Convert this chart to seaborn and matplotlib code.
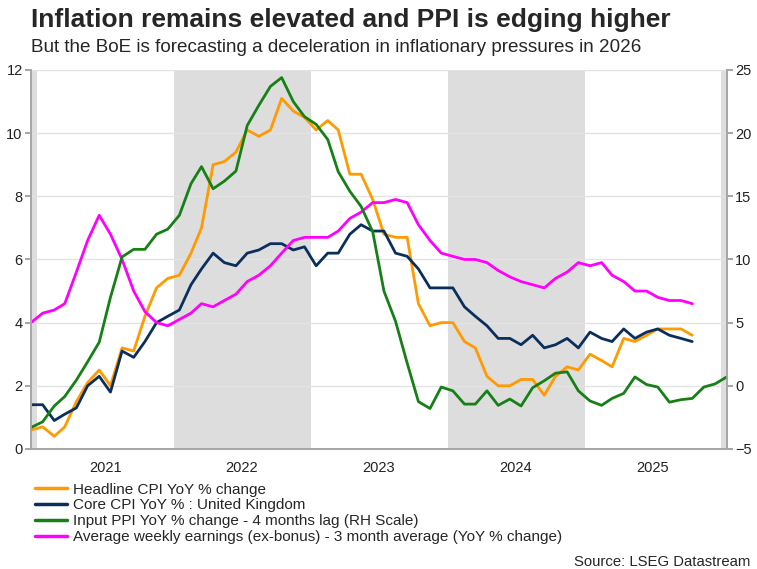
import numpy as np
import pandas as pd
import matplotlib
matplotlib.use("Agg")
import matplotlib.pyplot as plt
import matplotlib.dates as mdates
import seaborn as sns
from matplotlib import font_manager

# Monthly data, Dec 2020 onwards (mid-month points)
headline_cpi = [0.6, 0.7, 0.4, 0.7, 1.5, 2.1, 2.5, 2.0, 3.2, 3.1, 4.2, 5.1, 5.4,
                5.5, 6.2, 7.0, 9.0, 9.1, 9.4, 10.1, 9.9, 10.1, 11.1, 10.7, 10.5,
                10.1, 10.4, 10.1, 8.7, 8.7, 7.9, 6.8, 6.7, 6.7, 4.6, 3.9, 4.0,
                4.0, 3.4, 3.2, 2.3, 2.0, 2.0, 2.2, 2.2, 1.7, 2.3, 2.6, 2.5,
                3.0, 2.8, 2.6, 3.5, 3.4, 3.6, 3.8, 3.8, 3.8, 3.6]
core_cpi = [1.4, 1.4, 0.9, 1.1, 1.3, 2.0, 2.3, 1.8, 3.1, 2.9, 3.4, 4.0, 4.2,
            4.4, 5.2, 5.7, 6.2, 5.9, 5.8, 6.2, 6.3, 6.5, 6.5, 6.3, 6.4,
            5.8, 6.2, 6.2, 6.8, 7.1, 6.9, 6.9, 6.2, 6.1, 5.7, 5.1, 5.1,
            5.1, 4.5, 4.2, 3.9, 3.5, 3.5, 3.3, 3.6, 3.2, 3.3, 3.5, 3.2,
            3.7, 3.5, 3.4, 3.8, 3.5, 3.7, 3.8, 3.6, 3.5, 3.4]
earnings = [4.0, 4.3, 4.4, 4.6, 5.6, 6.6, 7.4, 6.8, 6.0, 5.0, 4.35, 4.0, 3.9,
            4.1, 4.3, 4.6, 4.5, 4.7, 4.9, 5.3, 5.5, 5.8, 6.2, 6.6, 6.7,
            6.7, 6.7, 6.9, 7.3, 7.5, 7.8, 7.8, 7.9, 7.8, 7.1, 6.6, 6.2,
            6.1, 6.0, 6.0, 5.9, 5.65, 5.45, 5.3, 5.2, 5.1, 5.4, 5.6, 5.9,
            5.8, 5.9, 5.5, 5.3, 5.0, 5.0, 4.8, 4.7, 4.7, 4.6]
input_ppi = [-3.3, -2.85, -1.6, -0.85, 0.45, 1.9, 3.45, 7.0, 10.2, 10.8, 10.8, 12.0, 12.4,
             13.5, 16.0, 17.35, 15.6, 16.2, 17.0, 20.6, 22.2, 23.7, 24.4, 22.5, 21.3,
             20.7, 19.5, 16.95, 15.4, 14.2, 12.2, 7.5, 5.1, 1.8, -1.25, -1.8, -0.1,
             -0.4, -1.45, -1.45, -0.4, -1.55, -1.05, -1.6, -0.15, 0.4, 1.0, 1.1, -0.4,
             -1.2, -1.55, -1.0, -0.6, 0.7, 0.1, -0.1, -1.3, -1.1, -1.0, -0.1, 0.15, 0.7]

labels = ["Headline CPI YoY % change",
          "Core CPI YoY % : United Kingdom",
          "Input PPI YoY % change - 4 months lag (RH Scale)",
          "Average weekly earnings (ex-bonus) - 3 month average (YoY % change)"]
colors = ["#FF9A00", "#0A2F5C", "#168016", "#FF00FF"]
years = [2021, 2022, 2023, 2024, 2025]

dates = pd.date_range("2020-12-01", periods=len(input_ppi), freq="MS") + pd.Timedelta(days=14)
df_left = pd.DataFrame({
    "date": np.tile(dates[:len(headline_cpi)], 3),
    "value": headline_cpi + core_cpi + earnings,
    "series": np.repeat([labels[0], labels[1], labels[3]], len(headline_cpi)),
})
df_ppi = pd.DataFrame({"date": dates, "value": input_ppi})

sns.set_theme(style="white")
installed = {f.name for f in font_manager.fontManager.ttflist}
narrow = "Liberation Sans Narrow" if "Liberation Sans Narrow" in installed else "Liberation Sans"
plt.rcParams["font.family"] = ["Liberation Sans", "DejaVu Sans"]

fig = plt.figure(figsize=(7.57, 5.69), dpi=100)
ax = fig.add_axes([0.041, 0.211, 0.919, 0.666])
ax2 = ax.twinx()

# alternate year shading
shade = "#DDDDDD"
ax.axvspan(dates[0], pd.Timestamp("2021-01-01"), color=shade, lw=0, zorder=0)
for y in [2022, 2024]:
    ax.axvspan(pd.Timestamp(f"{y}-01-01"), pd.Timestamp(f"{y+1}-01-01"), color=shade, lw=0, zorder=0)
ax.axvspan(pd.Timestamp("2026-01-01"), dates[-1], color=shade, lw=0, zorder=0)

sns.lineplot(data=df_left, x="date", y="value", hue="series",
             hue_order=[labels[0], labels[1], labels[3]],
             palette=[colors[0], colors[1], colors[3]], linewidth=2.0, ax=ax, legend=False)
sns.lineplot(data=df_ppi, x="date", y="value", color=colors[2], linewidth=2.0, ax=ax2, legend=False)

ax.set_xlim(dates[0], dates[-1])
ax.set_ylim(0, 12)
ax2.set_ylim(-5, 25)
ax.set_yticks(range(0, 13, 2))
ax2.set_yticks(range(-5, 26, 5))
ax.grid(axis="y", color="#E3E3E3", lw=1.0)
ax.set_axisbelow(True)

ax.xaxis.set_major_locator(mdates.YearLocator())
ax.xaxis.set_major_formatter(plt.NullFormatter())
ax.set_xticks([pd.Timestamp(f"{y}-07-01") for y in years], minor=True)
ax.set_xticklabels([str(y) for y in years], minor=True)
ax.tick_params(axis="x", which="major", length=4, color="#999999", direction="out")
ax.tick_params(axis="x", which="minor", length=0, labelsize=10.5, pad=9, colors="#222222")
ax.tick_params(axis="y", length=4, color="#999999", labelsize=10.5, pad=2, colors="#222222", left=True)
ax2.tick_params(axis="y", length=4, color="#999999", labelsize=10.5, pad=2, colors="#222222", right=True)
ax.set_xlabel("")
ax.set_ylabel("")
ax2.set_ylabel("")

for a in (ax, ax2):
    for side in ["left", "right", "bottom"]:
        a.spines[side].set_color("#A6A6A6")
        a.spines[side].set_linewidth(1.2)
    a.spines["top"].set_visible(False)

handles = [plt.Line2D([], [], color=c, lw=2.5) for c in colors]
fig.legend(handles, labels, loc="upper left", bbox_to_anchor=(0.046, 0.152),
           frameon=False, fontsize=11, handlelength=2.1, handletextpad=0.4,
           labelspacing=0.12, borderaxespad=0, borderpad=0)

fig.text(0.041, 0.953, "Inflation remains elevated and PPI is edging higher",
         fontsize=19, fontweight="bold", family=[narrow, "DejaVu Sans"], va="baseline")
fig.text(0.041, 0.908, "But the BoE is forecasting a deceleration in inflationary pressures in 2026",
         fontsize=13.6, va="baseline")
fig.text(0.991, 0.0123, "Source: LSEG Datastream", fontsize=10.7, ha="right", va="center")

fig.savefig("out.png", dpi=100)
